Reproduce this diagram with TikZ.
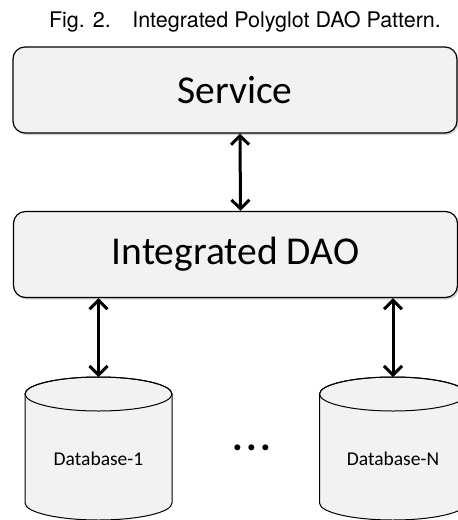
\documentclass[tikz,border=0pt]{standalone}
\usepackage{fontspec}
\setmainfont{Carlito}
\newfontfamily\capfont{TeX Gyre Heros}
\usetikzlibrary{shadows}
\usetikzlibrary{arrows.meta}
\definecolor{boxgray}{HTML}{F2F2F2}

\begin{document}
\begin{tikzpicture}[x=1pt, y=-1pt]
	\tikzstyle{layer}=[rectangle, rounded corners=12pt, draw=black, line width=1.2pt, fill=boxgray, minimum width=444pt, minimum height=86pt, font=\fontsize{39.5}{44}\selectfont, drop shadow={shadow xshift=1.5pt, shadow yshift=-2pt, opacity=0.35}]
	\tikzstyle{db}=[draw=black, line width=1pt, fill=boxgray]
	\tikzstyle{dbname}=[font=\fontsize{19.5}{22}\selectfont]
	\tikzstyle{link}=[{Straight Barb[length=9pt,width=18pt]}-{Straight Barb[length=9pt,width=18pt]}, line width=3pt]

	\useasboundingbox (0,0) rectangle (458,520);

	% Caption
	\node (caption) at (245,22) {\capfont\fontsize{21.5}{25}\selectfont Fig. 2.\quad Integrated Polyglot DAO Pattern.};

	% Draw layers
	\node[layer] (service) at (235,90) {Service};
	\node[layer] (dao) at (235.5,254.5) {Integrated DAO};

	% Draw databases
	\foreach \cx/\name/\txt in {98.5/db1/Database-1, 393/dbn/Database-N} {
		\filldraw[db] (\cx-73.5,394) -- (\cx-73.5,503)
			arc[start angle=180, end angle=0, x radius=73.5, y radius=17]
			-- (\cx+73.5,394)
			arc[start angle=0, end angle=-180, x radius=73.5, y radius=17] -- cycle;
		\draw[db, fill=none] (\cx,394) ellipse[x radius=73.5, y radius=17];
		\coordinate (\name) at (\cx,377);
		\node[dbname] (\name name) at (\cx,459) {\txt};
	}
	\node[font=\fontsize{40}{40}\selectfont\bfseries, inner sep=0pt] (dots) at (252,448) {.\hspace{3.3pt}.\hspace{3.3pt}.};

	% Draw arrows
	\draw[link] ([xshift=5pt]service.south) -- ([xshift=5pt]dao.north);
	\draw[link] (dao.south -| db1) -- (db1);
	\draw[link] (dao.south -| dbn) -- (dbn);

\end{tikzpicture}
\end{document}
